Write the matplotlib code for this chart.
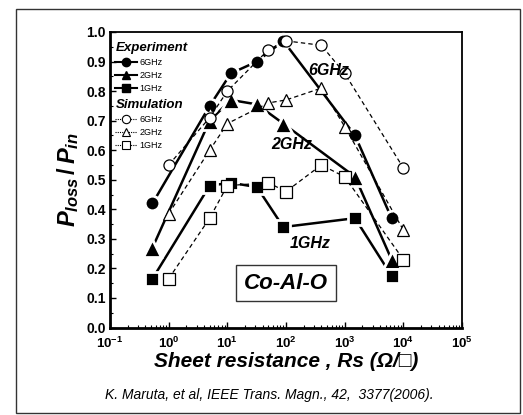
import matplotlib
matplotlib.use("Agg")
import matplotlib.pyplot as plt
from matplotlib.lines import Line2D
from matplotlib.patches import Rectangle
from matplotlib.ticker import FixedLocator, LogLocator, NullFormatter, MultipleLocator

plt.rcParams['font.family'] = ['Liberation Sans', 'DejaVu Sans']
plt.rcParams['mathtext.fontset'] = 'custom'
plt.rcParams['mathtext.rm'] = 'Liberation Sans:bold'
plt.rcParams['mathtext.it'] = 'Liberation Sans:bold:italic'
plt.rcParams['mathtext.bf'] = 'Liberation Sans:bold'

# ---- data ----
x_exp = [0.53, 5, 11.5, 32, 90, 1500, 6300]
exp_6ghz = [0.42, 0.75, 0.86, 0.90, 0.97, 0.65, 0.37]
exp_2ghz = [0.27, 0.70, 0.77, 0.755, 0.69, 0.51, 0.23]
exp_1ghz = [0.165, 0.48, 0.49, 0.475, 0.34, 0.37, 0.175]

x_sim = [1, 5, 10, 50, 100, 400, 1000, 10000]
sim_6ghz = [0.55, 0.71, 0.80, 0.94, 0.97, 0.955, 0.86, 0.54]
sim_2ghz = [0.385, 0.60, 0.69, 0.76, 0.77, 0.81, 0.68, 0.33]
sim_1ghz = [0.165, 0.37, 0.48, 0.49, 0.46, 0.55, 0.51, 0.23]

freq_labels = ['6GHz', '2GHz', '1GHz']
x_ticks = [1e-1, 1e0, 1e1, 1e2, 1e3, 1e4, 1e5]
x_tick_labels = [r'$10^{-1}$', r'$10^{0}$', r'$10^{1}$', r'$10^{2}$',
                 r'$10^{3}$', r'$10^{4}$', r'$10^{5}$']
y_ticks = [0.0, 0.1, 0.2, 0.3, 0.4, 0.5, 0.6, 0.7, 0.8, 0.9, 1.0]

fig = plt.figure(figsize=(5.23, 4.15), dpi=100)
fig.patches.append(Rectangle((0.0306, 0.004), 0.9636, 0.974, transform=fig.transFigure,
                             fill=False, edgecolor='#333333', linewidth=1.0))
ax = fig.add_axes([0.2103, 0.2108, 0.6731, 0.7121])

markers = ['o', '^', 's']
exp_sizes = [10.5, 12.5, 10.0]
exp_series = [exp_6ghz, exp_2ghz, exp_1ghz]
sim_series = [sim_6ghz, sim_2ghz, sim_1ghz]

for ys in exp_series:
    ax.plot(x_exp, ys, color='black', lw=1.8, zorder=2)
for ys, m, s in zip(exp_series, markers, exp_sizes):
    ax.plot(x_exp, ys, ls='none', marker=m, ms=s,
            mfc='black', mec='white', mew=2.0, zorder=3)
for ys, m in zip(sim_series, markers):
    ax.plot(x_sim, ys, color='black', lw=0.9, ls=(0, (3.5, 2.5)), marker=m, ms=8,
            mfc='white', mec='black', mew=0.9, zorder=4)

ax.set_xscale('log')
ax.set_xlim(1e-1, 1e5)
ax.set_ylim(0, 1.0)
ax.xaxis.set_major_locator(FixedLocator(x_ticks))
ax.set_xticks(x_ticks)
ax.set_xticklabels(x_tick_labels, fontsize=9.5)
ax.xaxis.set_minor_locator(LogLocator(base=10, subs=range(2, 10), numticks=20))
ax.xaxis.set_minor_formatter(NullFormatter())
ax.set_yticks(y_ticks)
ax.set_yticklabels([f'{v:.1f}' for v in y_ticks], fontsize=10, fontweight='bold')
ax.yaxis.set_minor_locator(MultipleLocator(0.05))
ax.tick_params(which='major', direction='in', length=4, width=1.0)
ax.tick_params(which='minor', direction='in', length=2, width=0.8)
ax.tick_params(axis='y', which='both', right=False, pad=3)
ax.tick_params(axis='x', which='both', top=False, pad=6)
for side in ['left', 'bottom']:
    ax.spines[side].set_linewidth(2.0)
for side in ['top', 'right']:
    ax.spines[side].set_linewidth(1.3)

ax.set_ylabel(r'$P_{loss}\,/\,P_{in}$', fontsize=17, labelpad=4)
ax.set_xlabel('Sheet resistance , Rs (Ω/□)', fontsize=15, fontweight='bold',
              fontstyle='italic', labelpad=1)

# curve labels
ax.text(0.62, 0.87, '6GHz', transform=ax.transAxes, fontsize=11.5,
        fontweight='bold', fontstyle='italic', ha='center', va='center', zorder=5)
ax.text(0.515, 0.62, '2GHz', transform=ax.transAxes, fontsize=11.5,
        fontweight='bold', fontstyle='italic', ha='center', va='center')
ax.text(0.57, 0.285, '1GHz', transform=ax.transAxes, fontsize=11.5,
        fontweight='bold', fontstyle='italic', ha='center', va='center')
ax.text(0.5, 0.15, 'Co-Al-O', transform=ax.transAxes, fontsize=16,
        fontweight='bold', fontstyle='italic', ha='center', va='center',
        bbox=dict(boxstyle='square,pad=0.35', fc='white', ec='#333333', lw=1.0))

# legends
exp_handles = [Line2D([], [], color='black', lw=1.5, marker=m, ms=6, mfc='black', mec='black')
               for m in markers]
sim_handles = [Line2D([], [], color='black', lw=0.8, ls=(0, (1, 1)), marker=m, ms=6,
                      mfc='white', mec='black', mew=0.8) for m in markers]
leg_kw = dict(loc='upper left', frameon=False, fontsize=6.5, alignment='left',
              handlelength=2.4, handletextpad=0.3, labelspacing=0.45, borderaxespad=0.2,
              title_fontproperties={'weight': 'bold', 'style': 'italic', 'size': 9.5})
leg1 = ax.legend(exp_handles, freq_labels, bbox_to_anchor=(0.0, 0.985),
                 title='Experiment', **leg_kw)
ax.add_artist(leg1)
leg2 = ax.legend(sim_handles, freq_labels, bbox_to_anchor=(0.0, 0.792),
                 title='Simulation', **leg_kw)

fig.text(0.515, 0.048, 'K. Maruta, et al, IEEE Trans. Magn., 42,  3377(2006).',
         fontsize=10, fontstyle='italic', ha='center', va='center')

fig.savefig('out.png', dpi=100)
